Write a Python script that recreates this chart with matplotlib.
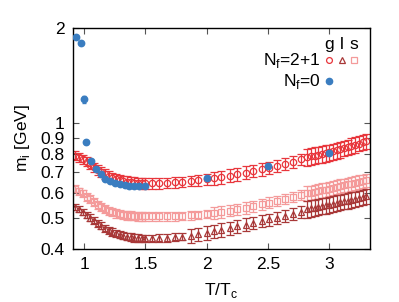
import matplotlib
matplotlib.use("Agg")
import matplotlib.pyplot as plt
from matplotlib.ticker import FixedLocator, NullLocator, FixedFormatter

plt.rcParams['font.family'] = ['Liberation Sans', 'DejaVu Sans']

# Nf=2+1 temperatures (T/Tc)
T21 = [0.93, 0.96, 0.99, 1.02, 1.05, 1.08, 1.11, 1.14, 1.17, 1.20, 1.23, 1.26, 1.29,
       1.32, 1.35, 1.38, 1.41, 1.44, 1.47, 1.50,
       1.55, 1.61, 1.68, 1.74, 1.80, 1.87, 1.93, 2.00, 2.06, 2.12, 2.19, 2.25, 2.32,
       2.38, 2.45, 2.51, 2.57, 2.64, 2.70, 2.77,
       2.82, 2.85, 2.88, 2.91, 2.94, 2.97, 3.00, 3.03, 3.06, 3.09, 3.12, 3.15, 3.18,
       3.21, 3.24, 3.27, 3.30]

m_g = [0.79, 0.78, 0.77, 0.755, 0.74, 0.725, 0.71, 0.70, 0.69, 0.68, 0.672, 0.666, 0.661,
       0.657, 0.654, 0.651, 0.649, 0.647, 0.646, 0.645,
       0.645, 0.646, 0.647, 0.650, 0.653, 0.656, 0.660, 0.664, 0.670, 0.676, 0.683, 0.690, 0.698,
       0.706, 0.715, 0.724, 0.733, 0.743, 0.753, 0.768,
       0.782, 0.786, 0.790, 0.794, 0.798, 0.803, 0.808, 0.814, 0.820, 0.826, 0.833, 0.840, 0.847,
       0.855, 0.862, 0.870, 0.878]
e_g = [0.025] * 20 + [0.025] * 8 + [0.032] * 12 + [0.048] * 17

m_l = [0.545, 0.535, 0.523, 0.512, 0.503, 0.493, 0.483, 0.474, 0.466, 0.459, 0.453, 0.448, 0.444,
       0.441, 0.438, 0.436, 0.434, 0.433, 0.432, 0.432,
       0.432, 0.433, 0.434, 0.436, 0.438, 0.441, 0.445, 0.450, 0.455, 0.460, 0.466, 0.472, 0.478,
       0.484, 0.490, 0.496, 0.502, 0.509, 0.516, 0.524,
       0.535, 0.538, 0.541, 0.544, 0.547, 0.550, 0.553, 0.556, 0.559, 0.562, 0.566, 0.569, 0.573,
       0.576, 0.580, 0.584, 0.588]
e_l = [0.012] * 20 + [0.012] * 5 + [0.022] * 15 + [0.032] * 17

m_s = [0.62, 0.61, 0.60, 0.585, 0.575, 0.565, 0.553, 0.543, 0.535, 0.528, 0.523, 0.519, 0.516,
       0.513, 0.511, 0.510, 0.509, 0.508, 0.507, 0.507,
       0.507, 0.507, 0.507, 0.508, 0.509, 0.511, 0.513, 0.516, 0.520, 0.524, 0.529, 0.534, 0.540,
       0.547, 0.554, 0.561, 0.568, 0.576, 0.584, 0.594,
       0.600, 0.603, 0.606, 0.609, 0.613, 0.616, 0.620, 0.624, 0.628, 0.632, 0.636, 0.640, 0.644,
       0.648, 0.652, 0.656, 0.660]
e_s = [0.016] * 20 + [0.016] * 8 + [0.022] * 12 + [0.032] * 17

# Nf=0
T0 = [0.935, 0.976, 1.0, 1.014, 1.057, 1.095, 1.138, 1.174, 1.21, 1.25, 1.29, 1.33,
      1.37, 1.41, 1.45, 1.50, 2.0, 2.5, 3.0]
m_0 = [1.875, 1.79, 1.19, 0.87, 0.762, 0.714, 0.689, 0.667, 0.658, 0.645, 0.641, 0.638,
       0.635, 0.634, 0.633, 0.632, 0.669, 0.734, 0.807]
e_0 = [0.01, 0.01, 0.03, 0.01, 0.005, 0.005, 0.005, 0.005, 0.005, 0.005, 0.005, 0.005,
       0.005, 0.005, 0.005, 0.005, 0.01, 0.01, 0.01]

xticks = [1, 1.5, 2, 2.5, 3]
xticklabels = ['1', '1.5', '2', '2.5', '3']
yticks = [0.4, 0.5, 0.6, 0.7, 0.8, 0.9, 1, 2]
yticklabels = ['0.4', '0.5', '0.6', '0.7', '0.8', '0.9', '1', '2']

c_g = '#e8363c'
c_l = '#a83838'
c_s = '#f49a9a'
c_0 = '#3a7dc0'

fig = plt.figure(figsize=(3.99, 3.02), dpi=100)
ax = fig.add_axes([0.183, 0.1755, 0.744, 0.7315])

ax.errorbar(T21, m_s, yerr=e_s, fmt='s', mfc='none', mec=c_s, ecolor=c_s, ms=4.5,
            mew=0.9, elinewidth=0.9, capsize=2.8, capthick=0.9)
ax.errorbar(T21, m_l, yerr=e_l, fmt='^', mfc='none', mec=c_l, ecolor=c_l, ms=4.0,
            mew=0.9, elinewidth=0.9, capsize=2.8, capthick=0.9)
ax.errorbar(T21, m_g, yerr=e_g, fmt='o', mfc='none', mec=c_g, ecolor=c_g, ms=4.6,
            mew=0.9, elinewidth=0.9, capsize=2.8, capthick=0.9)
ax.errorbar(T0, m_0, yerr=e_0, fmt='o', mfc=c_0, mec=c_0, ecolor=c_0, ms=4.6,
            elinewidth=0.9, capsize=1.5, zorder=5)

ax.set_yscale('log')
ax.set_xlim(0.91, 3.33)
ax.set_ylim(0.4, 2)
ax.xaxis.set_major_locator(FixedLocator(xticks))
ax.xaxis.set_major_formatter(FixedFormatter(xticklabels))
ax.yaxis.set_major_locator(FixedLocator(yticks))
ax.yaxis.set_major_formatter(FixedFormatter(yticklabels))
ax.yaxis.set_minor_locator(NullLocator())
ax.xaxis.set_minor_locator(NullLocator())
ax.tick_params(direction='in', top=True, right=True, length=4, width=0.8,
               labelsize=12.5, color='#555555', pad=6)
for sp in ax.spines.values():
    sp.set_linewidth(1.0)

ax.set_xlabel(r'T/T$_\mathregular{c}$', fontsize=12.5, labelpad=6)
ax.set_ylabel(r'm$_\mathregular{i}$ [GeV]', fontsize=12.5, labelpad=6)

# custom legend
tr = ax.transAxes
xs = [0.863, 0.907, 0.947]
for x, lab in zip(xs, ['g', 'l', 's']):
    ax.text(x, 0.925, lab, transform=tr, ha='center', va='center', fontsize=12.5)
ax.text(0.833, 0.852, r'N$_\mathregular{f}$=2+1', transform=tr, ha='right', va='center', fontsize=12.5)
ax.plot([xs[0]], [0.855], 'o', transform=tr, mfc='none', mec=c_g, ms=4.2, mew=0.9)
ax.plot([xs[1]], [0.855], '^', transform=tr, mfc='none', mec=c_l, ms=4.0, mew=0.9)
ax.plot([xs[2]], [0.855], 's', transform=tr, mfc='none', mec=c_s, ms=4.0, mew=0.9)
ax.text(0.833, 0.757, r'N$_\mathregular{f}$=0', transform=tr, ha='right', va='center', fontsize=12.5)
ax.plot([xs[0]], [0.76], 'o', transform=tr, mfc=c_0, mec=c_0, ms=4.5)

fig.savefig('out.png', dpi=100)
